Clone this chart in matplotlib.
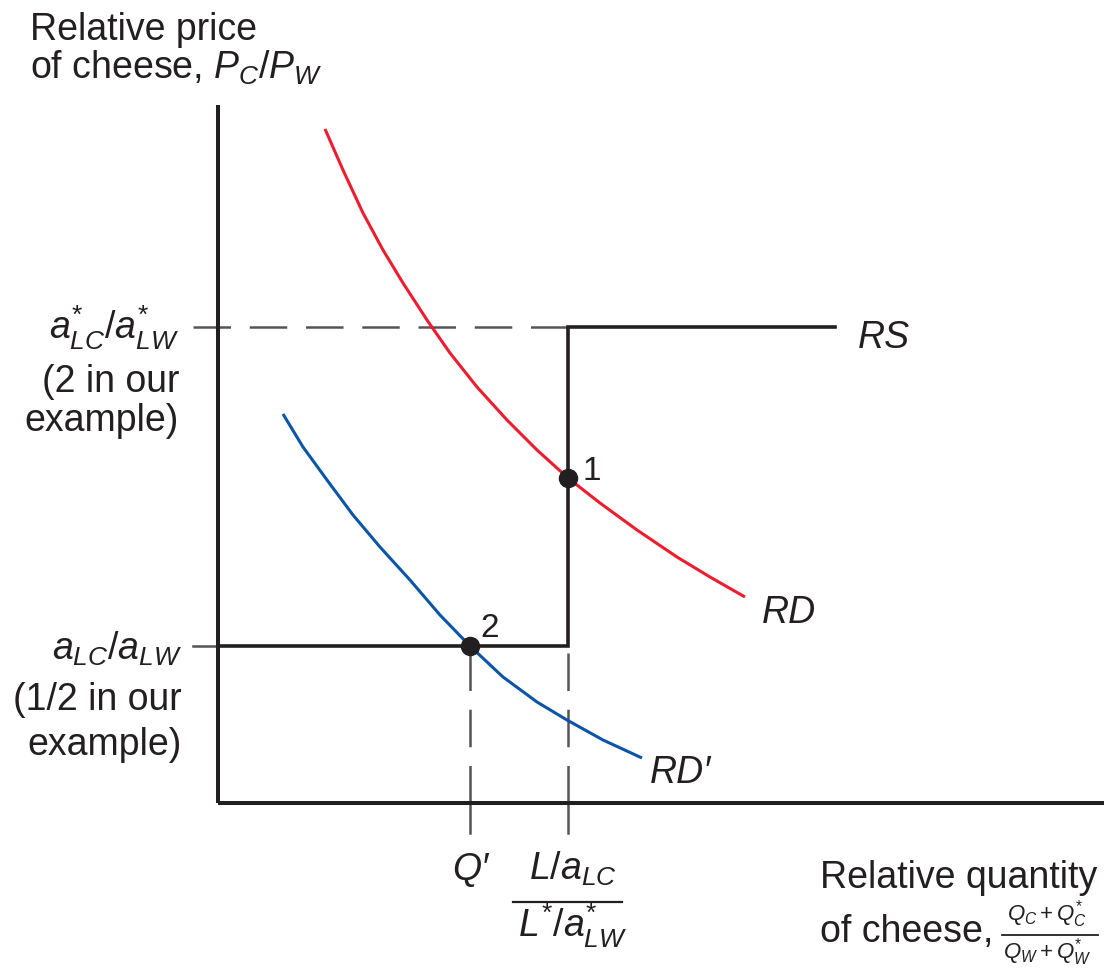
import matplotlib
matplotlib.use("Agg")
import matplotlib.pyplot as plt

plt.rcParams["font.family"] = ["Liberation Sans", "DejaVu Sans"]
plt.rcParams["mathtext.fontset"] = "custom"
plt.rcParams["mathtext.rm"] = "Liberation Sans"
plt.rcParams["mathtext.it"] = "Liberation Sans:italic"
plt.rcParams["mathtext.bf"] = "Liberation Sans:bold"

# diagram units: origin at the axes corner
price_high = 4.76      # a*LC/a*LW
price_low = 1.57       # aLC/aLW
q_world = 3.50         # (L/aLC)/(L*/a*LW)
q_prime = 2.52         # Q'
price_eq1 = 3.25       # point 1 on RD
rs_end = 6.17
y_top = 6.98
x_end = 8.86

rd_x = [1.07, 1.25, 1.45, 1.65, 1.85, 2.09, 2.32, 2.59, 2.89, 3.19,
        3.50, 3.82, 4.19, 4.59, 4.92, 5.27]
rd_y = [6.74, 6.33, 5.90, 5.53, 5.20, 4.83, 4.50, 4.16, 3.83, 3.53,
        3.25, 3.00, 2.73, 2.46, 2.26, 2.06]

rd2_x = [0.65, 0.85, 1.09, 1.35, 1.62, 1.92, 2.22, 2.52, 2.85, 3.19,
         3.49, 3.85, 4.24]
rd2_y = [3.89, 3.56, 3.23, 2.88, 2.56, 2.23, 1.88, 1.57, 1.26, 1.01,
         0.83, 0.63, 0.45]

INK = "#231f20"
RED = "#ed1c2e"
BLUE = "#0a55a8"
GREY = "#555555"

fig = plt.figure(figsize=(11.04, 9.69), dpi=100)
ax = fig.add_axes([0, 0, 1, 1])
ax.set_xlim(-2.18, 8.86)
ax.set_ylim(-1.66, 8.03)
ax.set_xticks([])
ax.set_yticks([])
for side in ["top", "right"]:
    ax.spines[side].set_visible(False)
for side in ["left", "bottom"]:
    ax.spines[side].set_position(("data", 0))
    ax.spines[side].set_linewidth(2.9)
    ax.spines[side].set_color(INK)
    ax.spines[side].set_capstyle("butt")
ax.spines["left"].set_bounds(0, y_top)
ax.spines["bottom"].set_bounds(0, x_end)

dash = (0, (15, 7.5))
ax.plot([-0.25, q_world], [price_high, price_high], color=GREY, lw=1.8, ls=dash, zorder=1)
ax.plot([-0.25, 0], [price_low, price_low], color=GREY, lw=1.8, zorder=1)
for xq in (q_prime, q_world):
    ax.plot([xq, xq], [0, price_low], color=GREY, lw=1.8, ls=dash, zorder=1)
    ax.plot([xq, xq], [0, -0.30], color=GREY, lw=1.8, zorder=1)

# relative supply
ax.plot([0, q_world, q_world, rs_end], [price_low, price_low, price_high, price_high],
        color=INK, lw=2.6, solid_joinstyle="miter", zorder=3)

ax.plot(rd_x, rd_y, color=RED, lw=2.2, solid_capstyle="butt", zorder=2)
ax.plot(rd2_x, rd2_y, color=BLUE, lw=2.2, solid_capstyle="butt", zorder=2)

ax.plot([q_world, q_prime], [price_eq1, price_low], "o", color=INK, ms=13, zorder=4)
ax.text(q_world + 0.14, price_eq1 - 0.02, "1", fontsize=24, color=INK, va="baseline")
ax.text(q_prime + 0.10, price_low + 0.09, "2", fontsize=24, color=INK, va="baseline")

fs = 27
ax.text(-1.88, 7.63, "Relative price", fontsize=fs, color=INK, va="baseline")
ax.text(-1.88, 7.24, "of cheese, $P_C/P_W$", fontsize=fs, color=INK, va="baseline")

ax.text(-0.39, 4.63, r"$a^{*}_{LC}/a^{*}_{LW}$", fontsize=fs, color=INK, va="baseline", ha="right")
ax.text(-0.39, 4.11, "(2 in our", fontsize=fs, color=INK, va="baseline", ha="right")
ax.text(-0.39, 3.72, "example)", fontsize=fs, color=INK, va="baseline", ha="right")

ax.text(-0.36, 1.43, r"$a_{LC}/a_{LW}$", fontsize=fs, color=INK, va="baseline", ha="right")
ax.text(-0.36, 0.93, "(1/2 in our", fontsize=fs, color=INK, va="baseline", ha="right")
ax.text(-0.36, 0.48, "example)", fontsize=fs, color=INK, va="baseline", ha="right")

ax.text(6.40, 4.55, "RS", fontsize=fs, style="italic", color=INK, va="baseline")
ax.text(5.44, 1.80, "RD", fontsize=fs, style="italic", color=INK, va="baseline")
ax.text(4.32, 0.20, "RD\u2032", fontsize=fs, style="italic", color=INK, va="baseline")

ax.text(q_prime, -0.77, "Q\u2032", fontsize=fs, style="italic", color=INK, va="baseline", ha="center")
ax.text(q_world + 0.05, -0.77, "$L/a_{LC}$", fontsize=fs, color=INK, va="baseline", ha="center")
ax.plot([q_world - 0.55, q_world + 0.54], [-0.99, -0.99], color=INK, lw=1.6)
ax.text(q_world + 0.05, -1.34, r"$L^{*}/a^{*}_{LW}$", fontsize=fs, color=INK, va="baseline", ha="center")

ax.text(6.02, -0.85, "Relative quantity", fontsize=fs, color=INK, va="baseline")
ax.text(6.02, -1.39, "of cheese,", fontsize=fs, color=INK, va="baseline")
ax.text(8.29, -1.18, r"$Q_C + Q^{*}_C$", fontsize=16, color=INK, va="baseline", ha="center")
ax.plot([7.84, 8.80], [-1.32, -1.32], color=INK, lw=1.3)
ax.text(8.29, -1.56, r"$Q_W + Q^{*}_W$", fontsize=16, color=INK, va="baseline", ha="center")

fig.savefig("out.png", dpi=100)
